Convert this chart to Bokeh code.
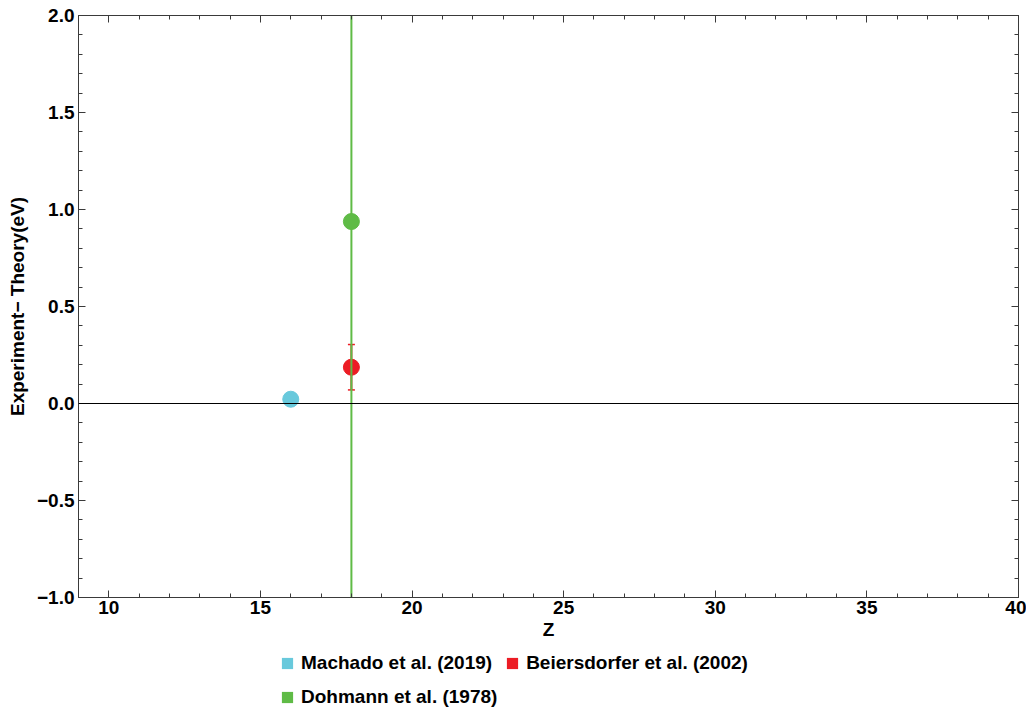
from bokeh.plotting import figure
from bokeh.layouts import column
from bokeh.models import (LinearAxis, FixedTicker, Span, Legend, LegendItem,
                          ColumnDataSource, Range1d, CustomJSTickFormatter)
from bokeh.embed import file_html
from bokeh.resources import INLINE

# ---- data ----
series = ["Machado et al. (2019)", "Beiersdorfer et al. (2002)", "Dohmann et al. (1978)"]
z = [16, 18, 18]
delta = [0.022, 0.187, 0.938]
err = [0.005, 0.117, 2.5]
colors = ["#68C9DC", "#EC1C24", "#5FBB46"]
x_major = [10, 15, 20, 25, 30, 35, 40]
x_minor = list(range(9, 41))
y_major = [-1.0, -0.5, 0.0, 0.5, 1.0, 1.5, 2.0]
y_minor = [round(-1.0 + 0.1 * i, 1) for i in range(31)]

FONT = "Liberation Sans"
FS = "19px"
AX = "#3a3a3a"
W = 1026

p = figure(width=W, height=650, x_range=Range1d(9, 40), y_range=Range1d(-1, 2),
           output_backend="svg", toolbar_location=None,
           min_border_left=78, min_border_right=8, min_border_top=15, min_border_bottom=53)
p.xgrid.visible = False
p.ygrid.visible = False
p.outline_line_color = None
p.background_fill_color = "white"


def style(ax):
    ax.major_tick_in = 7
    ax.major_tick_out = 0
    ax.minor_tick_in = 4
    ax.minor_tick_out = 0
    ax.axis_line_color = AX
    ax.major_tick_line_color = AX
    ax.minor_tick_line_color = AX
    ax.major_label_text_font = FONT
    ax.major_label_text_font_style = "bold"
    ax.major_label_text_font_size = FS
    ax.major_label_text_color = "black"
    ax.axis_label_text_font = FONT
    ax.axis_label_text_font_style = "bold"
    ax.axis_label_text_font_size = FS
    ax.axis_label_text_color = "black"


blank = CustomJSTickFormatter(code='return "";')

xa = p.xaxis[0]
xa.ticker = FixedTicker(ticks=x_major, minor_ticks=x_minor)
xa.axis_label = "Z"
style(xa)
xa.major_label_standoff = 3
xa.axis_label_standoff = 2

ya = p.yaxis[0]
ya.ticker = FixedTicker(ticks=y_major, minor_ticks=y_minor)
ya.formatter = CustomJSTickFormatter(code='return (tick < 0 ? "\\u2212" : "") + Math.abs(tick).toFixed(1);')
ya.axis_label = "Experiment\u2212 Theory(eV)"
style(ya)
ya.major_label_standoff = 4
ya.axis_label_standoff = 6

top = LinearAxis(ticker=FixedTicker(ticks=x_major, minor_ticks=x_minor), formatter=blank)
style(top)
top.major_label_standoff = 0
p.add_layout(top, "above")
right = LinearAxis(ticker=FixedTicker(ticks=y_major, minor_ticks=y_minor), formatter=blank)
style(right)
right.major_label_standoff = 0
p.add_layout(right, "right")

# zero line
p.add_layout(Span(location=0, dimension="width", line_color="black", line_width=1))

for i in range(3):
    src = ColumnDataSource(dict(x=[z[i]], y=[delta[i]],
                                lo=[delta[i] - err[i]], hi=[delta[i] + err[i]]))
    p.segment(x0="x", y0="lo", x1="x", y1="hi", source=src, line_color=colors[i], line_width=2)
    p.scatter(x="x", y="lo", source=src, marker="dash", size=7, line_color=colors[i], line_width=1.5)
    p.scatter(x="x", y="hi", source=src, marker="dash", size=7, line_color=colors[i], line_width=1.5)
    p.scatter(x="x", y="y", source=src, marker="circle", size=16, color=colors[i])

# ---- legend strip below the plot ----
lf = figure(width=W, height=64, x_range=Range1d(0, 1), y_range=Range1d(0, 1),
            output_backend="svg", toolbar_location=None,
            min_border_left=0, min_border_right=0, min_border_top=0, min_border_bottom=0,
            x_axis_location=None, y_axis_location=None)
lf.xgrid.visible = False
lf.ygrid.visible = False
lf.outline_line_color = None

nan = float("nan")
items = []
for i in range(3):
    proxy = lf.quad(left=[nan], right=[nan], bottom=[nan], top=[nan],
                    fill_color=colors[i], line_color=None)
    items.append(LegendItem(label=series[i], renderers=[proxy]))


def make_legend(its, loc):
    lg = Legend(items=its, location=loc, orientation="horizontal")
    lg.label_text_font = FONT
    lg.label_text_font_style = "bold"
    lg.label_text_font_size = FS
    lg.label_text_color = "black"
    lg.glyph_width = 14
    lg.glyph_height = 14
    lg.label_standoff = 7
    lg.spacing = 13
    lg.padding = 0
    lg.margin = 0
    lg.border_line_color = None
    lg.background_fill_alpha = 0
    lf.add_layout(lg, "center")
    return lg


make_legend(items[:2], (202, 40))
make_legend(items[2:], (202, 6))

open("out.html", "w").write(file_html(column(p, lf), INLINE))
